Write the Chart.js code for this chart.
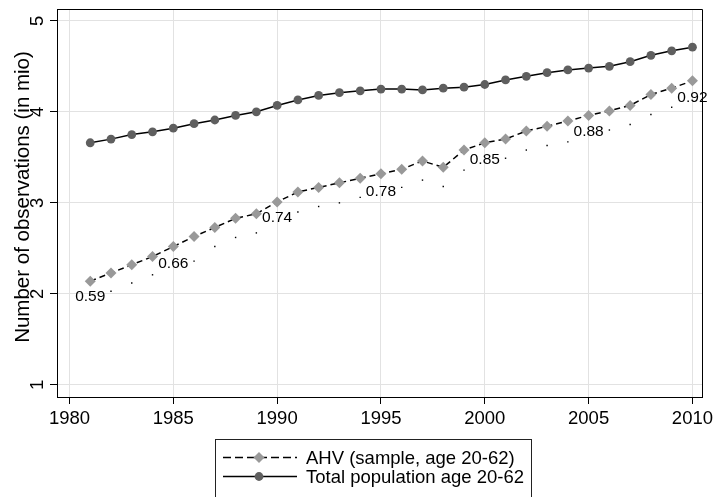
<!DOCTYPE html>
<html>
<head>
<meta charset="utf-8">
<script src="https://cdn.jsdelivr.net/npm/chart.js@4/dist/chart.umd.min.js"></script>
<style>
html,body{margin:0;padding:0;background:#fff;}
#wrap{width:713px;height:497px;position:relative;}
</style>
</head>
<body>
<div id="wrap"><canvas id="c" width="713" height="497"></canvas></div>
<script>
// ---- data ----
const years = [1981,1982,1983,1984,1985,1986,1987,1988,1989,1990,1991,1992,1993,1994,1995,1996,1997,1998,1999,2000,2001,2002,2003,2004,2005,2006,2007,2008,2009,2010];
const totalPop = [3.66,3.70,3.75,3.78,3.82,3.87,3.91,3.96,4.00,4.07,4.13,4.18,4.21,4.23,4.25,4.25,4.24,4.26,4.27,4.30,4.35,4.39,4.43,4.46,4.48,4.50,4.55,4.62,4.67,4.71];
const ahv = [2.14,2.23,2.32,2.41,2.52,2.63,2.73,2.83,2.88,3.01,3.12,3.17,3.22,3.27,3.32,3.37,3.46,3.39,3.58,3.66,3.70,3.79,3.84,3.90,3.96,4.01,4.07,4.19,4.26,4.34];
const ratioPos = [1.98,2.03,2.12,2.21,2.34,2.36,2.52,2.62,2.67,2.85,2.90,2.96,3.00,3.06,3.14,3.17,3.25,3.18,3.36,3.49,3.49,3.58,3.63,3.67,3.79,3.80,3.86,3.97,4.05,4.17];
const labelYears = [1981,1985,1990,1995,2000,2005,2010];
const labelTexts = ['0.59','0.66','0.74','0.78','0.85','0.88','0.92'];
const xTicks = [1980,1985,1990,1995,2000,2005,2010];
const yTicks = [1,2,3,4,5];
const seriesNames = ['AHV (sample, age 20-62)','Total population age 20-62'];
const yTitle = 'Number of observations (in mio)';

const FONT = '"Liberation Sans", Arial, Helvetica, sans-serif';

const dotRadius = years.map(y => labelYears.includes(y) ? 0 : 1);

const customDraw = {
  id: 'customDraw',
  afterDatasetsDraw(chart) {
    const ctx = chart.ctx, xs = chart.scales.x, ys = chart.scales.y;
    ctx.save();
    ctx.fillStyle = '#000';
    ctx.font = '15.5px ' + FONT;
    ctx.textAlign = 'center';
    ctx.textBaseline = 'alphabetic';
    labelYears.forEach((yr, i) => {
      const idx = years.indexOf(yr);
      const px = xs.getPixelForValue(yr);
      const py = ys.getPixelForValue(ratioPos[idx]);
      ctx.fillText(labelTexts[i], px, py + 5.5);
    });
    ctx.restore();
  },
  afterDraw(chart) {
    const ctx = chart.ctx, xs = chart.scales.x, ys = chart.scales.y, a = chart.chartArea;
    ctx.save();
    // top/right border
    ctx.strokeStyle = '#000';
    ctx.lineWidth = 1;
    ctx.beginPath();
    ctx.moveTo(Math.round(a.left) + 0.5, Math.round(a.top) + 0.5);
    ctx.lineTo(Math.round(a.right) + 0.5, Math.round(a.top) + 0.5);
    ctx.lineTo(Math.round(a.right) + 0.5, Math.round(a.bottom) + 0.5);
    ctx.stroke();
    // x tick labels
    ctx.fillStyle = '#000';
    ctx.font = '18.5px ' + FONT;
    ctx.textAlign = 'center';
    ctx.textBaseline = 'alphabetic';
    xTicks.forEach(v => ctx.fillText(String(v), xs.getPixelForValue(v), 424));
    // y tick labels rotated
    yTicks.forEach(v => {
      ctx.save();
      ctx.translate(43, ys.getPixelForValue(v));
      ctx.rotate(-Math.PI / 2);
      ctx.fillText(String(v), 0, 0);
      ctx.restore();
    });
    // y title
    ctx.save();
    ctx.font = '20.5px ' + FONT;
    ctx.translate(28.5, 197);
    ctx.rotate(-Math.PI / 2);
    ctx.fillText(yTitle, 0, 0);
    ctx.restore();
    // legend box
    const bx = 215.5, by = 439.5, bw = 316, bh = 70;
    ctx.strokeStyle = '#222';
    ctx.lineWidth = 1;
    ctx.strokeRect(bx, by, bw, bh);
    const rows = [457.5, 476.5];
    const k0 = 223, k1 = 297, km = 259;
    // row 1: dashed + diamond
    ctx.strokeStyle = '#000';
    ctx.lineWidth = 1.5;
    ctx.setLineDash([8, 4]);
    ctx.beginPath(); ctx.moveTo(k0, rows[0]); ctx.lineTo(k1, rows[0]); ctx.stroke();
    ctx.setLineDash([]);
    ctx.fillStyle = '#999999';
    ctx.beginPath();
    ctx.moveTo(km - 5.5, rows[0]); ctx.lineTo(km, rows[0] - 5.5); ctx.lineTo(km + 5.5, rows[0]); ctx.lineTo(km, rows[0] + 5.5);
    ctx.closePath(); ctx.fill();
    // row 2: solid + circle
    ctx.beginPath(); ctx.moveTo(k0, rows[1]); ctx.lineTo(k1, rows[1]); ctx.stroke();
    ctx.fillStyle = '#5f5f5f';
    ctx.beginPath(); ctx.arc(km, rows[1], 4.4, 0, Math.PI * 2); ctx.fill();
    // texts
    ctx.fillStyle = '#000';
    ctx.textAlign = 'left';
    ctx.font = '18.5px ' + FONT;
    ctx.fillText(seriesNames[0], 306, rows[0] + 6.5);
    ctx.fillText(seriesNames[1], 306, rows[1] + 6.5);
    ctx.restore();
  }
};

new Chart(document.getElementById('c'), {
  type: 'line',
  data: {
    datasets: [
      {
        label: 'ratio',
        data: years.map((y, i) => ({x: y, y: ratioPos[i]})),
        showLine: false,
        pointStyle: 'rect',
        pointRadius: dotRadius,
        pointBackgroundColor: '#000',
        pointBorderWidth: 0,
        order: 3
      },
      {
        label: seriesNames[0],
        data: years.map((y, i) => ({x: y, y: ahv[i]})),
        borderColor: '#000',
        borderWidth: 1.5,
        borderDash: [6, 4],
        pointStyle: 'rectRot',
        pointRadius: 5.5,
        pointBackgroundColor: '#999999',
        pointBorderWidth: 0,
        tension: 0,
        order: 2
      },
      {
        label: seriesNames[1],
        data: years.map((y, i) => ({x: y, y: totalPop[i]})),
        borderColor: '#000',
        borderWidth: 1.5,
        pointStyle: 'circle',
        pointRadius: 4.4,
        pointBackgroundColor: '#5f5f5f',
        pointBorderWidth: 0,
        tension: 0,
        order: 1
      }
    ]
  },
  options: {
    responsive: false,
    animation: false,
    devicePixelRatio: 1,
    layout: {padding: {top: 9, right: 11, left: 0, bottom: 0}},
    plugins: {legend: {display: false}, tooltip: {enabled: false}},
    scales: {
      x: {
        type: 'linear',
        min: 1979.4,
        max: 2010.46,
        afterBuildTicks: s => { s.ticks = xTicks.map(v => ({value: v})); },
        afterFit: s => { s.height = 100; },
        ticks: {display: false},
        grid: {color: '#e2e2e2', lineWidth: 1, tickColor: '#000', tickLength: 7, drawTicks: true},
        border: {color: '#000', width: 1}
      },
      y: {
        type: 'linear',
        min: 0.868,
        max: 5.129,
        afterBuildTicks: s => { s.ticks = yTicks.map(v => ({value: v})); },
        afterFit: s => { s.width = 57; },
        ticks: {display: false},
        grid: {color: '#e2e2e2', lineWidth: 1, tickColor: '#000', tickLength: 7, drawTicks: true},
        border: {color: '#000', width: 1}
      }
    }
  },
  plugins: [customDraw]
});
</script>
</body>
</html>
